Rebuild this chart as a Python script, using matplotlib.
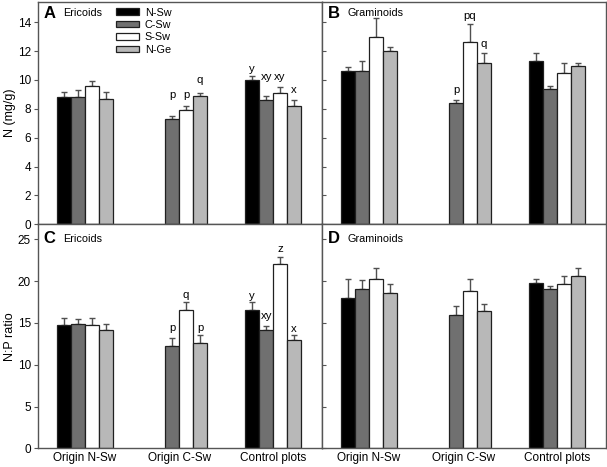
import numpy as np
import matplotlib
matplotlib.use("Agg")
import matplotlib.pyplot as plt
from matplotlib.patches import Patch

plt.rcParams['font.family'] = ['Liberation Sans', 'DejaVu Sans']

groups = ['Origin N-Sw', 'Origin C-Sw', 'Control plots']
series = ['N-Sw', 'C-Sw', 'S-Sw', 'N-Ge']
colors = ['#000000', '#707070', '#ffffff', '#b8b8b8']
nan = np.nan

# N (mg/g), ericoids  -- rows = series, cols = groups
n_eric = [[8.8, nan, 10.0],
          [8.8, 7.3, 8.6],
          [9.6, 7.9, 9.1],
          [8.7, 8.9, 8.2]]
n_eric_se = [[0.4, nan, 0.3],
             [0.5, 0.2, 0.3],
             [0.3, 0.3, 0.4],
             [0.5, 0.2, 0.4]]

# N (mg/g), graminoids
n_gram = [[10.6, nan, 11.3],
          [10.6, 8.4, 9.4],
          [13.0, 12.6, 10.5],
          [12.0, 11.2, 11.0]]
n_gram_se = [[0.3, nan, 0.6],
             [0.7, 0.2, 0.2],
             [1.3, 1.3, 0.7],
             [0.3, 0.7, 0.2]]

# N:P ratio, ericoids
np_eric = [[14.7, nan, 16.5],
           [14.9, 12.2, 14.1],
           [14.7, 16.6, 22.0],
           [14.1, 12.6, 12.9]]
np_eric_se = [[0.85, nan, 1.0],
              [0.6, 1.0, 0.5],
              [0.9, 0.85, 0.9],
              [0.8, 1.0, 0.6]]

# N:P ratio, graminoids
np_gram = [[18.0, nan, 19.8],
           [19.1, 16.0, 19.0],
           [20.3, 18.8, 19.6],
           [18.6, 16.4, 20.6]]
np_gram_se = [[2.3, nan, 0.5],
              [1.05, 1.0, 0.45],
              [1.3, 1.45, 1.0],
              [1.0, 0.9, 1.0]]

# significance letters: (group, series, text, baseline y)
let_A = [(1, 1, 'p', 8.77), (1, 2, 'p', 8.77), (1, 3, 'q', 9.77),
         (2, 0, 'y', 10.58), (2, 1, 'xy', 9.98), (2, 2, 'xy', 9.98), (2, 3, 'x', 9.12)]
let_B = [(1, 1, 'p', 9.1), (1, 2, 'pq', 14.25), (1, 3, 'q', 12.25)]
let_C = [(1, 1, 'p', 14.08), (1, 2, 'q', 18.0), (1, 3, 'p', 14.08),
         (2, 0, 'y', 17.92), (2, 1, 'xy', 15.48), (2, 2, 'z', 23.48), (2, 3, 'x', 13.96)]
let_D = []

fig = plt.figure(figsize=(6.07, 4.67), dpi=100)
axA = fig.add_axes([0.0626, 0.5197, 0.468, 0.476])
axB = fig.add_axes([0.5305, 0.5197, 0.468, 0.476])
axC = fig.add_axes([0.0626, 0.040, 0.468, 0.4797])
axD = fig.add_axes([0.5305, 0.040, 0.468, 0.4797])

x = np.arange(len(groups))
w = 0.148
offs = [-1.5 * w, -0.5 * w, 0.5 * w, 1.5 * w]


def panel(ax, vals, ses, letters, tag, name, ylim, yticks, left, bottom):
    for i in range(len(series)):
        v = np.array(vals[i], dtype=float)
        e = np.array(ses[i], dtype=float)
        ax.errorbar(x + offs[i], v, yerr=[np.zeros_like(e), e], fmt='none',
                    ecolor='#505050', elinewidth=1, capsize=2.3, capthick=1, zorder=1)
        ax.bar(x + offs[i], v, w, color=colors[i], edgecolor='#202020',
               linewidth=0.9, zorder=2)
    for g, s, t, y in letters:
        ax.text(x[g] + offs[s], y, t, ha='center', va='baseline', fontsize=8.2)
    ax.set_xlim(-0.5, 2.52)
    ax.set_ylim(*ylim)
    ax.set_yticks(yticks)
    for sp in ax.spines.values():
        sp.set_color('#555555')
        sp.set_linewidth(1)
    ax.set_xticks(x)
    if bottom:
        ax.set_xticklabels(groups, fontsize=8.5)
    else:
        ax.set_xticklabels([])
    ax.tick_params(axis='x', length=0, pad=3)
    if left:
        ax.tick_params(axis='y', direction='out', length=3, labelsize=8.5,
                       color='#555555', pad=2)
    else:
        ax.tick_params(axis='y', direction='in', length=3, labelleft=False,
                       color='#555555')
    ty = 0.95 if tag in 'AB' else 0.935
    ax.text(0.02, ty, tag, transform=ax.transAxes,
            fontsize=12, fontweight='bold', va='center', ha='left')
    ax.text(0.088, ty, name, transform=ax.transAxes,
            fontsize=7.8, va='center', ha='left')


panel(axA, n_eric, n_eric_se, let_A, 'A', 'Ericoids', (0, 15.4), range(0, 15, 2), True, False)
panel(axB, n_gram, n_gram_se, let_B, 'B', 'Graminoids', (0, 15.4), range(0, 15, 2), False, False)
panel(axC, np_eric, np_eric_se, let_C, 'C', 'Ericoids', (0, 26.8), range(0, 26, 5), True, True)
panel(axD, np_gram, np_gram_se, let_D, 'D', 'Graminoids', (0, 26.8), range(0, 26, 5), False, True)

axA.set_ylabel('N (mg/g)', fontsize=9)
axC.set_ylabel('N:P ratio', fontsize=9)
axA.yaxis.set_label_coords(-0.079, 0.5)
axC.yaxis.set_label_coords(-0.079, 0.5)

handles = [Patch(facecolor=colors[i], edgecolor='#202020', linewidth=0.9) for i in range(4)]
axA.legend(handles, series, loc='upper left', bbox_to_anchor=(0.275, 0.975),
           frameon=False, fontsize=7.8, handlelength=2.1, handleheight=0.55,
           handletextpad=0.55, labelspacing=0.22, borderpad=0, borderaxespad=0)

fig.savefig('out.png', dpi=100)
